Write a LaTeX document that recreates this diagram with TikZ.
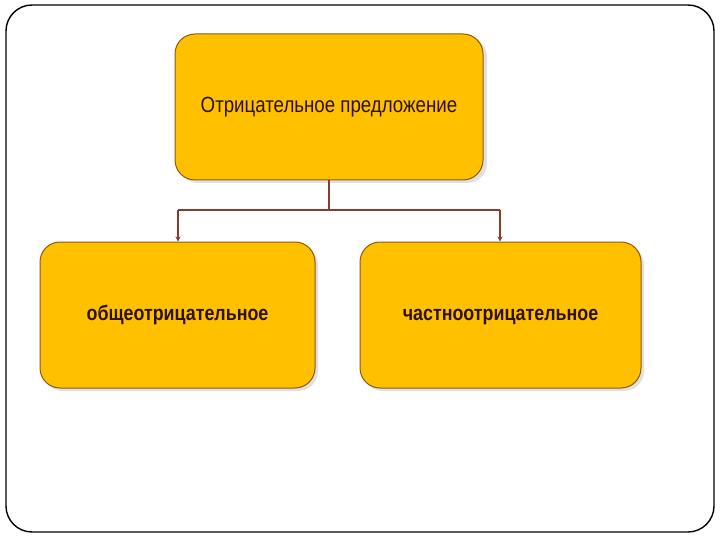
\documentclass[tikz,border=0pt]{standalone}
\usepackage{fontspec}
\setmainfont{Liberation Sans}[FakeStretch=0.85]
\usetikzlibrary{arrows.meta}
\definecolor{boxfill}{HTML}{FFC000}
\definecolor{boxedge}{HTML}{8A5A10}
\definecolor{txt}{HTML}{2E1208}
\definecolor{conn}{HTML}{8C3A2C}
\tikzset{
  box/.style={draw=boxedge, line width=1pt, fill=boxfill, rounded corners=20pt, text=txt, text height=15pt, text depth=4pt},
  conn/.style={draw=conn, line width=1.3pt},
  tip/.style={conn, -{Stealth[length=5pt,width=5pt]}},
}
\begin{document}
\begin{tikzpicture}[x=1pt,y=-1pt]
\useasboundingbox (0,0) rectangle (720,540);
\fill[white] (0,0) rectangle (720,540);
\draw[line width=1.4pt, rounded corners=26pt] (6,5) rectangle (714,532);
% shadows
\fill[black!12, rounded corners=20pt] (178,37) rectangle (487,183);
\fill[black!12, rounded corners=20pt] (43,245) rectangle (318,391);
\fill[black!12, rounded corners=20pt] (363,245) rectangle (644,391);
\node[box, minimum width=308pt, minimum height=146pt, font=\fontsize{22}{26}\selectfont] (top) at (329,107) {Отрицательное предложение};
\node[box, minimum width=275pt, minimum height=146pt, font=\fontsize{21}{25}\selectfont\bfseries] (left) at (177.5,315) {общеотрицательное};
\node[box, minimum width=281pt, minimum height=146pt, font=\fontsize{21}{25}\selectfont\bfseries] (right) at (500.5,315) {частноотрицательное};
\coordinate (j) at (329,210);
\coordinate (jl) at (178,210);
\coordinate (jr) at (500,210);
\draw[conn] (top.south) -- (j);
\draw[conn] (jl) -- (jr);
\draw[tip] (jl) -- (left.north -| jl);
\draw[tip] (jr) -- (right.north -| jr);
\end{tikzpicture}
\end{document}
